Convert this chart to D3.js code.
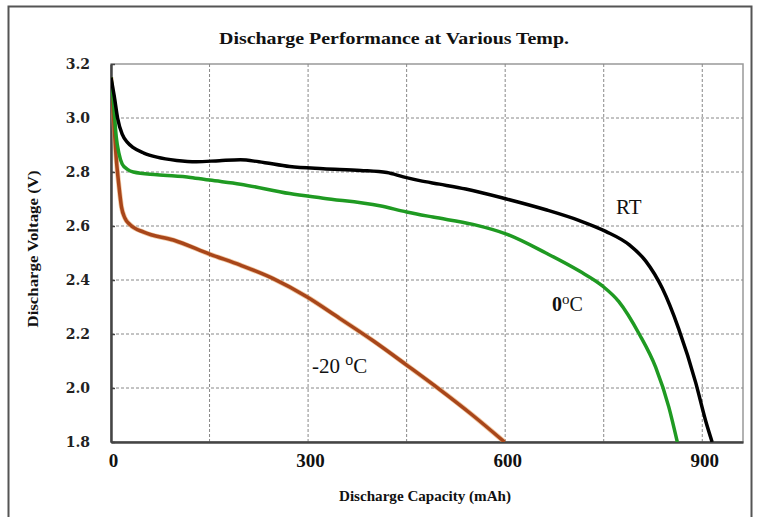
<!DOCTYPE html>
<html><head><meta charset="utf-8">
<script src="https://cdn.jsdelivr.net/npm/d3@7"></script>
<style>body{margin:0;background:#fff}svg{display:block}</style>
</head><body>
<svg id="c" width="763" height="517"></svg>
<script>
const xTicks = [0, 300, 600, 900];
const xGrid = [150, 300, 450, 600, 750, 900];
const yTicks = [1.8, 2.0, 2.2, 2.4, 2.6, 2.8, 3.0, 3.2];
const seriesNames = ["RT", "0°C", "-20 °C"];
const rtData = [[0,3.15],[5,3.08],[10,3.0],[17,2.94],[25,2.91],[34,2.89],[50,2.87],[70,2.855],[100,2.843],[130,2.838],[165,2.842],[197,2.845],[225,2.838],[272,2.82],[323,2.812],[380,2.806],[420,2.798],[445,2.782],[470,2.768],[500,2.755],[540,2.737],[602,2.70],[662,2.66],[713,2.62],[753,2.58],[789,2.53],[814,2.47],[839,2.37],[864,2.22],[890,2.02],[905,1.88],[915,1.80]];
const zeroData = [[0,3.15],[4,3.05],[8,2.93],[12,2.87],[17,2.83],[25,2.81],[34,2.80],[70,2.79],[121,2.78],[150,2.77],[197,2.755],[272,2.72],[323,2.703],[409,2.675],[450,2.652],[490,2.633],[551,2.606],[602,2.57],[662,2.50],[713,2.433],[748,2.378],[773,2.32],[804,2.20],[829,2.077],[849,1.93],[862,1.80]];
const minus20Data = [[0,3.15],[4,3.0],[8,2.85],[12,2.75],[16,2.67],[21,2.63],[29,2.605],[50,2.577],[95,2.548],[151,2.495],[197,2.455],[247,2.405],[298,2.338],[348,2.258],[399,2.175],[450,2.085],[500,1.995],[550,1.9],[599,1.80]];

const svg = d3.select("#c");
const L = 111, R = 743, T = 64, B = 442;
const x = d3.scaleLinear().domain([0, 962]).range([L, R]);
const y = d3.scaleLinear().domain([1.8, 3.2]).range([B, T]);

// outer frame
svg.append("rect").attr("x", 8.5).attr("y", 6.5).attr("width", 743).attr("height", 520)
  .attr("fill", "none").attr("stroke", "#555").attr("stroke-width", 2);

// plot frame
svg.append("rect").attr("x", L).attr("y", T).attr("width", R - L).attr("height", B - T)
  .attr("fill", "none").attr("stroke", "#999").attr("stroke-width", 1.5);

// grid
const g = svg.append("g");
g.selectAll(".vg").data(xGrid).join("line")
  .attr("x1", d => x(d)).attr("x2", d => x(d)).attr("y1", T).attr("y2", B)
  .attr("stroke", "#888").attr("stroke-width", 1).attr("stroke-dasharray", "3,2");
g.selectAll(".hg").data(yTicks.filter(v => v > 1.8 && v < 3.2)).join("line")
  .attr("x1", L).attr("x2", R).attr("y1", d => y(d)).attr("y2", d => y(d))
  .attr("stroke", "#888").attr("stroke-width", 1).attr("stroke-dasharray", "3,2");

// axes
const xAxis = d3.axisBottom(x).tickValues(xTicks).tickSize(0).tickFormat(d3.format("d")).tickPadding(12);
const gx = svg.append("g").attr("transform", `translate(0,${B})`).call(xAxis);
gx.select(".domain").attr("stroke", "#444").attr("stroke-width", 2.5);
gx.selectAll("text").attr("font-family", "Liberation Serif").attr("font-weight", "bold")
  .attr("font-size", 19).attr("fill", "#111").attr("dx", 2);

const yAxis = d3.axisLeft(y).tickValues(yTicks).tickSize(0).tickFormat(d3.format(".1f")).tickPadding(21);
const gy = svg.append("g").attr("transform", `translate(${L},0)`).call(yAxis);
gy.select(".domain").attr("stroke", "#444").attr("stroke-width", 2.5);
gy.selectAll("text").attr("font-family", "DejaVu Serif").attr("font-weight", "bold")
  .attr("font-size", 14).attr("fill", "#222");
gy.selectAll(".tick").append("line").attr("x1", 0).attr("x2", 4).attr("stroke", "#444").attr("stroke-width", 1.5);

// titles
svg.append("text").attr("x", 394).attr("y", 44).attr("text-anchor", "middle")
  .attr("font-family", "Liberation Serif").attr("font-weight", "bold").attr("font-size", 17)
  .attr("textLength", 350).attr("lengthAdjust", "spacingAndGlyphs").attr("fill", "#111")
  .text("Discharge Performance at Various Temp.");
svg.append("text").attr("x", 425).attr("y", 501).attr("text-anchor", "middle")
  .attr("font-family", "Liberation Serif").attr("font-weight", "bold").attr("font-size", 14)
  .attr("textLength", 172).attr("lengthAdjust", "spacingAndGlyphs").attr("fill", "#111")
  .text("Discharge Capacity (mAh)");
svg.append("text").attr("transform", "translate(38,249) rotate(-90)").attr("text-anchor", "middle")
  .attr("font-family", "Liberation Serif").attr("font-weight", "bold").attr("font-size", 14)
  .attr("textLength", 157).attr("lengthAdjust", "spacingAndGlyphs").attr("fill", "#111")
  .text("Discharge Voltage (V)");

// lines
const line = d3.line().x(d => x(d[0])).y(d => y(d[1])).curve(d3.curveMonotoneX);
svg.append("clipPath").attr("id", "pc").append("rect")
  .attr("x", L).attr("y", T).attr("width", R - L).attr("height", B - T);
const lg = svg.append("g").attr("clip-path", "url(#pc)");
lg.append("path").datum(minus20Data).attr("d", line).attr("fill", "none")
  .attr("stroke", "#e8a060").attr("stroke-width", 5).attr("stroke-opacity", 0.6);
lg.append("path").datum(minus20Data).attr("d", line).attr("fill", "none")
  .attr("stroke", "#a8461a").attr("stroke-width", 3.5);
lg.append("path").datum(zeroData).attr("d", line).attr("fill", "none")
  .attr("stroke", "#1f9a22").attr("stroke-width", 3.5);
lg.append("path").datum(rtData).attr("d", line).attr("fill", "none")
  .attr("stroke", "#000").attr("stroke-width", 3.5);

// series labels
svg.append("text").attr("x", 616).attr("y", 214).attr("font-family", "Liberation Serif")
  .attr("font-size", 21).attr("fill", "#111").text(seriesNames[0]);
const t0 = svg.append("text").attr("x", 552).attr("y", 311).attr("font-family", "Liberation Serif")
  .attr("font-size", 20).attr("fill", "#111");
t0.append("tspan").attr("font-weight", "bold").text("0");
t0.append("tspan").attr("dy", -7).attr("font-size", 15).text("o");
t0.append("tspan").attr("dy", 7).text("C");
const t2 = svg.append("text").attr("x", 312).attr("y", 373).attr("font-family", "Liberation Serif")
  .attr("font-size", 21).attr("fill", "#111");
t2.append("tspan").text("-20 ");
t2.append("tspan").attr("dy", -8).attr("font-size", 16).text("o");
t2.append("tspan").attr("dy", 8).text("C");
</script>
</body></html>
